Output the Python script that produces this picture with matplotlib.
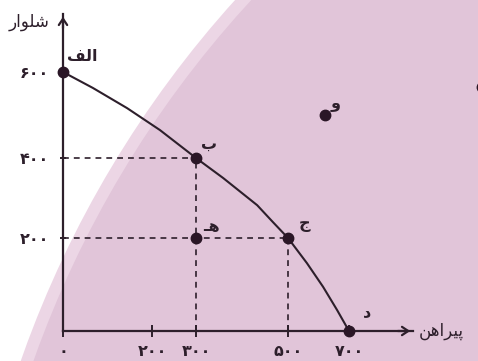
import numpy as np
import matplotlib
matplotlib.use('Agg')
import matplotlib.pyplot as plt
from matplotlib.patches import Circle

plt.rcParams['font.family'] = ['DejaVu Sans']

# ---- data (schematic production possibilities frontier) ----
x_ticks = [0, 200, 300, 500, 700]
x_tick_labels = ['۰', '۲۰۰', '۳۰۰', '۵۰۰', '۷۰۰']
y_ticks = [200, 400, 600]
y_tick_labels = ['۲۰۰', '۴۰۰', '۶۰۰']

curve_x = [0, 67, 144, 218, 300, 359, 433, 467, 500, 562, 615, 661, 700]
curve_y = [600, 563, 516, 465, 400, 350, 282, 240, 200, 146, 95, 45, 0]

point_names = ['الف', 'ب', 'ج', 'د', 'هـ', 'و', '']
point_x = [0, 300, 500, 700, 300, 620, 1135]
point_y = [600, 400, 200, 0, 200, 500, 565]

x_label = 'پیراهن'
y_label = 'شلوار'

# ---- tiny arabic shaping (matplotlib draws no joined forms) ----
FORMS = {
    'ا': ('\uFE8D', '\uFE8E', None, None),
    'ب': ('\uFE8F', '\uFE90', '\uFE91', '\uFE92'),
    'پ': ('\uFB56', '\uFB57', '\uFB58', '\uFB59'),
    'ج': ('\uFE9D', '\uFE9E', '\uFE9F', '\uFEA0'),
    'د': ('\uFEA9', '\uFEAA', None, None),
    'ر': ('\uFEAD', '\uFEAE', None, None),
    'ش': ('\uFEB5', '\uFEB6', '\uFEB7', '\uFEB8'),
    'ف': ('\uFED1', '\uFED2', '\uFED3', '\uFED4'),
    'ل': ('\uFEDD', '\uFEDE', '\uFEDF', '\uFEE0'),
    'ن': ('\uFEE5', '\uFEE6', '\uFEE7', '\uFEE8'),
    'ه': ('\uFEE9', '\uFEEA', '\uFEEB', '\uFEEC'),
    'و': ('\uFEED', '\uFEEE', None, None),
    'ی': ('\uFBFC', '\uFBFD', '\uFBFE', '\uFBFF'),
}
TATWEEL = '\u0640'


def shape(s):
    out = []
    for i, c in enumerate(s):
        if c not in FORMS:
            out.append(c)
            continue
        prev = s[i - 1] if i > 0 else None
        nxt = s[i + 1] if i + 1 < len(s) else None
        jp = prev is not None and (prev == TATWEEL or (prev in FORMS and FORMS[prev][2] is not None))
        jn = FORMS[c][2] is not None and nxt is not None and (nxt == TATWEEL or nxt in FORMS)
        iso, fin, ini, med = FORMS[c]
        if jp and jn:
            out.append(med)
        elif jp:
            out.append(fin)
        elif jn:
            out.append(ini)
        else:
            out.append(iso)
    return ''.join(reversed(out))


# ---- schematic (non linear) axes: tick value -> pixel ----
xd = [-300, 0, 200, 300, 500, 700, 1300]
xp = [-70.5, 63, 152, 196, 288, 349, 532]
yd = [-300, 0, 200, 400, 600, 1200]
yp = [-109.5, 30, 123, 203, 289, 547]


def fx(v):
    return np.interp(v, xd, xp)


def ix(p):
    return np.interp(p, xp, xd)


def fy(v):
    return np.interp(v, yd, yp)


def iy(p):
    return np.interp(p, yp, yd)


dark = '#2d1f2b'
pink = '#e1c5d9'

fig = plt.figure(figsize=(4.78, 3.61), dpi=100)
fig.patch.set_facecolor('white')
fig.patches.append(Circle((10.23, -3.51), 10.62, transform=fig.dpi_scale_trans,
                          fc='#ecd6e5', ec='none', zorder=-2))
fig.patches.append(Circle((10.23, -3.51), 10.50, transform=fig.dpi_scale_trans,
                          fc=pink, ec='none', zorder=-1))

ax = fig.add_axes([0, 0, 1, 1])
ax.patch.set_alpha(0)
ax.set_xscale('function', functions=(fx, ix))
ax.set_yscale('function', functions=(fy, iy))
ax.set_xlim(ix(0), ix(478))
ax.set_ylim(iy(0), iy(361))

for s in ['top', 'right']:
    ax.spines[s].set_visible(False)
ax.spines['left'].set_position(('data', 0))
ax.spines['bottom'].set_position(('data', 0))
x_tip = ix(413)
y_tip = iy(347)
ax.spines['left'].set_bounds(0, y_tip)
ax.spines['bottom'].set_bounds(0, x_tip)
for s in ['left', 'bottom']:
    ax.spines[s].set_color(dark)
    ax.spines[s].set_linewidth(1.6)

ax.set_xticks(x_ticks)
ax.set_xticklabels(x_tick_labels)
ax.set_yticks(y_ticks)
ax.set_yticklabels(y_tick_labels)
ax.minorticks_off()
ax.tick_params(axis='x', direction='inout', length=8.5, width=1.4, color=dark,
               labelcolor=dark, labelsize=11.5, pad=5)
ax.tick_params(axis='y', direction='inout', length=4, width=1.4, color=dark,
               labelcolor=dark, labelsize=11.5, pad=8)
for lab in ax.get_xticklabels() + ax.get_yticklabels():
    lab.set_fontweight('bold')

# arrow heads
ax.annotate('', xy=(0, y_tip), xytext=(0, iy(330)),
            arrowprops=dict(arrowstyle='->,head_length=0.45,head_width=0.3', lw=1.6, color=dark))
ax.annotate('', xy=(x_tip, 0), xytext=(ix(395), 0),
            arrowprops=dict(arrowstyle='->,head_length=0.45,head_width=0.3', lw=1.6, color=dark))

ax.annotate(shape(y_label), xy=(0, y_tip), xytext=(-10, -6), textcoords='offset points',
            ha='right', va='center', fontsize=12, color=dark)
ax.annotate(shape(x_label), xy=(x_tip, 0), xytext=(4, 0), textcoords='offset points',
            ha='left', va='center', fontsize=12, color=dark)

# dashed guide lines
dash = dict(color=dark, lw=1.2, ls=(0, (3.5, 3)))
ax.plot([0, point_x[1]], [point_y[1], point_y[1]], **dash)
ax.plot([point_x[1], point_x[1]], [0, point_y[1]], **dash)
ax.plot([0, point_x[2]], [point_y[2], point_y[2]], **dash)
ax.plot([point_x[2], point_x[2]], [0, point_y[2]], **dash)

# frontier
ax.plot(curve_x, curve_y, color=dark, lw=1.5, solid_capstyle='round', solid_joinstyle='round')

# points + names
ax.plot(point_x, point_y, 'o', color='#2a1626', ms=7.5, clip_on=True, zorder=5)
offsets = [(14, 11), (9.5, 9.5), (12, 9.5), (13, 13), (11, 8.5), (8, 8.5), (0, 0)]
for name, x, y, off in zip(point_names, point_x, point_y, offsets):
    if name:
        ax.annotate(shape(name), xy=(x, y), xytext=off, textcoords='offset points',
                    ha='center', va='center', fontsize=11.5, fontweight='bold', color=dark)

fig.savefig('out.png', dpi=100)
